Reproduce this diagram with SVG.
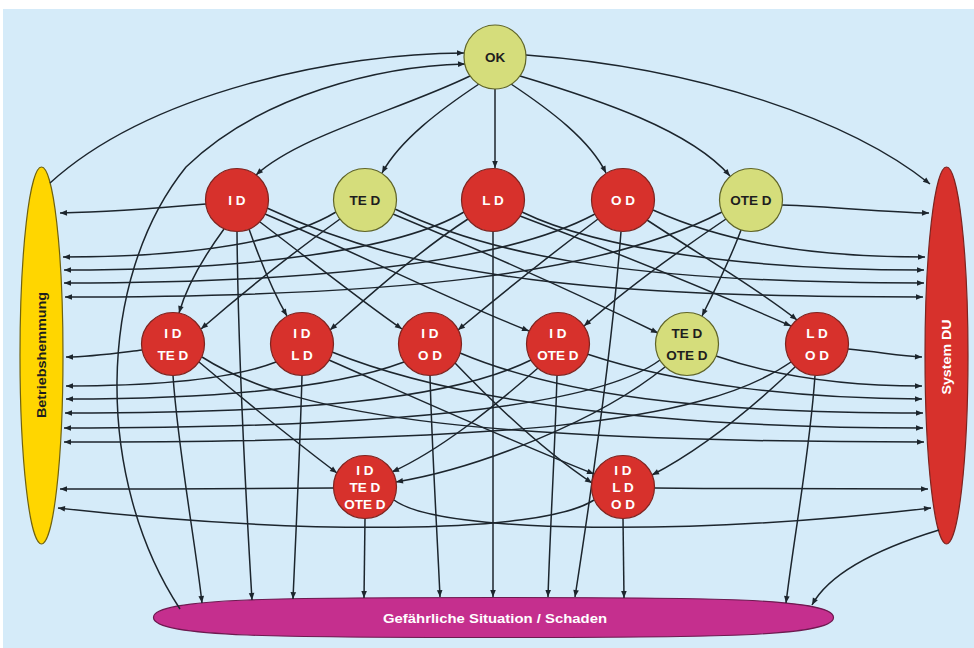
<svg xmlns="http://www.w3.org/2000/svg" width="974" height="648" viewBox="0 0 974 648">
  <style>
    .edge { fill: none; stroke: #1c252d; stroke-width: 1.5; marker-end: url(#arrow); }
    .red { fill: #d7312c; stroke: #7e2420; stroke-width: 1.2; }
    .lime { fill: #d5dd7b; stroke: #5f6428; stroke-width: 1.2; }
    .lbl { font-family: "Liberation Sans", Arial, sans-serif; font-weight: bold; font-size: 13.5px; text-anchor: middle; }
    .w { fill: #ffffff; }
    .d { fill: #1e1e1e; }
  </style>
  <defs>
    <marker id="arrow" viewBox="0 0 10 10" refX="10" refY="5" markerWidth="9" markerHeight="7" markerUnits="userSpaceOnUse" orient="auto">
      <path d="M0,1 L10,5 L0,9 z" fill="#1c252d"/>
    </marker>
  </defs>

  <!-- canvas -->
  <rect x="0" y="0" width="974" height="648" fill="#ffffff"/>
  <rect x="3" y="9" width="971" height="639" fill="#d5ebf9"/>

  <!-- sink states -->
  <g id="betriebshemmung">
    <ellipse cx="41.5" cy="355.5" rx="21.5" ry="188.5" fill="#ffd600" stroke="#6f6210" stroke-width="1.2"/>
    <text class="lbl d" transform="translate(46,355) rotate(-90)" textLength="126" lengthAdjust="spacingAndGlyphs">Betriebshemmung</text>
  </g>
  <g id="system-du">
    <ellipse cx="946.5" cy="355.5" rx="21.5" ry="188.5" fill="#d7312c" stroke="#7e2420" stroke-width="1.2"/>
    <text class="lbl w" transform="translate(951,357) rotate(-90)" textLength="75" lengthAdjust="spacingAndGlyphs">System DU</text>
  </g>
  <g id="gefaehrliche-situation">
    <path d="M153.5,617.5 C153.5,597.5 289.5,597.5 493.5,597.5 C697.5,597.5 833.5,597.5 833.5,617.5 C833.5,637.5 697.5,637.5 493.5,637.5 C289.5,637.5 153.5,637.5 153.5,617.5 Z" fill="#c52f8e" stroke="#6d1a50" stroke-width="1.2"/>
    <text class="lbl w" x="495" y="623" textLength="224" lengthAdjust="spacingAndGlyphs">Gefährliche Situation / Schaden</text>
  </g>

  <!-- transitions -->
  <g id="connectors">
    <!-- from OK -->
    <path class="edge" d="M470,76 C400,110 300,135 256,175"/>
    <path class="edge" d="M479,84 C440,110 400,140 382,173"/>
    <path class="edge" d="M495,89 L495,168"/>
    <path class="edge" d="M511,84 C550,110 590,140 606,173"/>
    <path class="edge" d="M520,76 C600,100 690,130 730,176"/>
    <path class="edge" d="M526,55 C700,68 850,120 930,184"/>
    <!-- back to OK -->
    <path class="edge" d="M50,183 C150,92 340,53 464,53"/>
    <path class="edge" d="M180,609 C95,480 95,280 186,167 C260,95 380,66 465,64"/>
    <!-- System DU to hazard -->
    <path class="edge" d="M939,530 C880,548 830,572 812,605"/>

    <!-- ID -->
    <path class="edge" d="M206,204 C160,208 110,212 60,213"/>
    <path class="edge" d="M224,229 C205,255 187,285 179,313"/>
    <path class="edge" d="M249,229 C260,260 273,292 287,316"/>
    <path class="edge" d="M260,222 C310,260 360,300 402,329"/>
    <path class="edge" d="M265,214 C350,250 450,300 529,331"/>
    <path class="edge" d="M267,208 C420,280 600,297 923,297"/>
    <path class="edge" d="M237,231.5 C238,350 246,500 252,600"/>

    <!-- TE D -->
    <path class="edge" d="M340,219 C290,255 240,295 201,329"/>
    <path class="edge" d="M393,214 C480,250 580,295 658,333"/>
    <path class="edge" d="M336,212 C290,240 200,257 63,257"/>
    <path class="edge" d="M395,209 C500,260 650,283 924,283"/>

    <!-- L D -->
    <path class="edge" d="M468,219 C420,250 370,295 330,330"/>
    <path class="edge" d="M520,216 C610,250 720,295 791,326"/>
    <path class="edge" d="M464,212 C400,250 250,270 64,270"/>
    <path class="edge" d="M522,212 C600,250 750,270 924,270"/>
    <path class="edge" d="M493,231.5 L493,597"/>

    <!-- O D -->
    <path class="edge" d="M598,219 C550,255 500,295 458,330"/>
    <path class="edge" d="M647,220 C700,255 760,290 797,320"/>
    <path class="edge" d="M595,214 C500,265 300,283 64,283"/>
    <path class="edge" d="M653,210 C720,240 800,257 925,257"/>
    <path class="edge" d="M621,231.5 C612,350 590,500 575,597"/>

    <!-- OTE D -->
    <path class="edge" d="M726,219 C680,250 625,290 584,326"/>
    <path class="edge" d="M741,230 C730,260 715,290 702,316"/>
    <path class="edge" d="M722,212 C600,275 400,297 65,297"/>
    <path class="edge" d="M782,205 C840,207 880,212 929,213"/>

    <!-- I D + TE D -->
    <path class="edge" d="M142,350 C110,354 90,357 66,357"/>
    <path class="edge" d="M199,362 C250,405 300,445 337,473"/>
    <path class="edge" d="M202,357 C300,420 500,442 924,442"/>
    <path class="edge" d="M173,375.5 C178,450 195,540 202,603"/>

    <!-- I D + L D -->
    <path class="edge" d="M276,362 C230,380 150,386 66,386"/>
    <path class="edge" d="M329,360 C420,400 520,445 594,474"/>
    <path class="edge" d="M332,352 C450,400 650,428 923,428"/>
    <path class="edge" d="M302,375.5 C300,450 296,530 293,599"/>

    <!-- I D + O D -->
    <path class="edge" d="M404,362 C330,390 200,399 66,399"/>
    <path class="edge" d="M455,363 C500,410 550,455 592,483"/>
    <path class="edge" d="M460,353 C560,395 700,413 923,413"/>
    <path class="edge" d="M430,375.5 C432,450 437,530 440,597"/>

    <!-- I D + OTE D -->
    <path class="edge" d="M531,360 C450,400 300,413 65,413"/>
    <path class="edge" d="M538,368 C490,410 440,450 392,472"/>
    <path class="edge" d="M587,354 C680,385 800,399 922,399"/>
    <path class="edge" d="M557,375.5 C555,450 550,530 548,597"/>

    <!-- TE D + OTE D -->
    <path class="edge" d="M660,360 C600,405 400,428 64,428"/>
    <path class="edge" d="M665,367 C600,420 480,468 396,482"/>
    <path class="edge" d="M716,356 C780,378 850,386 922,386"/>

    <!-- L D + O D -->
    <path class="edge" d="M791,362 C700,425 500,442 64,442"/>
    <path class="edge" d="M795,367 C750,410 700,450 652,475"/>
    <path class="edge" d="M848,349 C880,352 900,356 922,357"/>
    <path class="edge" d="M815,375.5 C810,450 795,530 786,603"/>

    <!-- I D + TE D + OTE D -->
    <path class="edge" d="M333.5,488 C250,489 150,489 60,489"/>
    <path class="edge" d="M394,500 C440,535 700,535 931,508"/>
    <path class="edge" d="M365,518.5 L364,598"/>

    <!-- I D + L D + O D -->
    <path class="edge" d="M654.5,488 C750,489 850,489 928,489"/>
    <path class="edge" d="M594,500 C540,535 300,535 58,508"/>
    <path class="edge" d="M623,518.5 L624,598"/>
  </g>

  <!-- states -->
  <g id="ok">
    <ellipse class="lime" cx="495" cy="57" rx="31" ry="32"/>
    <text class="lbl d" x="495" y="62">OK</text>
  </g>

  <g id="id">
    <circle class="red" cx="237" cy="200" r="31.5"/>
    <text class="lbl w" x="237" y="205">I D</text>
  </g>
  <g id="ted">
    <circle class="lime" cx="365" cy="200" r="31.5"/>
    <text class="lbl d" x="365" y="205">TE D</text>
  </g>
  <g id="ld">
    <circle class="red" cx="493" cy="200" r="31.5"/>
    <text class="lbl w" x="493" y="205">L D</text>
  </g>
  <g id="od">
    <circle class="red" cx="623" cy="200" r="31.5"/>
    <text class="lbl w" x="623" y="205">O D</text>
  </g>
  <g id="oted">
    <circle class="lime" cx="751" cy="200" r="31.5"/>
    <text class="lbl d" x="751" y="205">OTE D</text>
  </g>

  <g id="id-ted">
    <circle class="red" cx="173" cy="344" r="31.5"/>
    <text class="lbl w" x="173" y="338">I D</text>
    <text class="lbl w" x="173" y="360">TE D</text>
  </g>
  <g id="id-ld">
    <circle class="red" cx="302" cy="344" r="31.5"/>
    <text class="lbl w" x="302" y="338">I D</text>
    <text class="lbl w" x="302" y="360">L D</text>
  </g>
  <g id="id-od">
    <circle class="red" cx="430" cy="344" r="31.5"/>
    <text class="lbl w" x="430" y="338">I D</text>
    <text class="lbl w" x="430" y="360">O D</text>
  </g>
  <g id="id-oted">
    <circle class="red" cx="558" cy="344" r="31.5"/>
    <text class="lbl w" x="558" y="338">I D</text>
    <text class="lbl w" x="558" y="360">OTE D</text>
  </g>
  <g id="ted-oted">
    <circle class="lime" cx="687" cy="344" r="31.5"/>
    <text class="lbl d" x="687" y="338">TE D</text>
    <text class="lbl d" x="687" y="360">OTE D</text>
  </g>
  <g id="ld-od">
    <circle class="red" cx="817" cy="344" r="31.5"/>
    <text class="lbl w" x="817" y="338">L D</text>
    <text class="lbl w" x="817" y="360">O D</text>
  </g>

  <g id="id-ted-oted">
    <circle class="red" cx="365" cy="487" r="31.5"/>
    <text class="lbl w" x="365" y="475">I D</text>
    <text class="lbl w" x="365" y="492">TE D</text>
    <text class="lbl w" x="365" y="509">OTE D</text>
  </g>
  <g id="id-ld-od">
    <circle class="red" cx="623" cy="487" r="31.5"/>
    <text class="lbl w" x="623" y="475">I D</text>
    <text class="lbl w" x="623" y="492">L D</text>
    <text class="lbl w" x="623" y="509">O D</text>
  </g>
</svg>
